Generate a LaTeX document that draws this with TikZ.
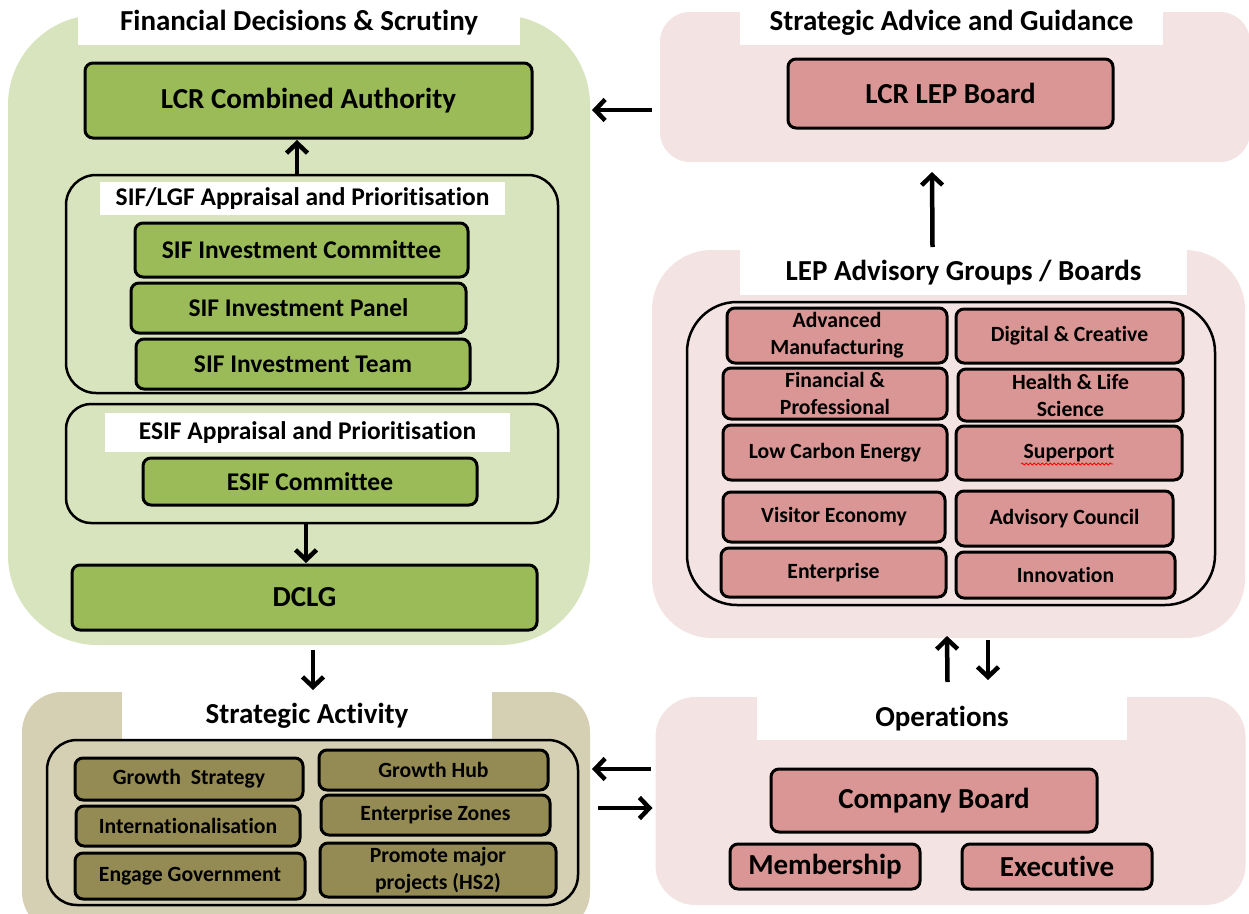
\documentclass[tikz,border=0pt]{standalone}
\usepackage{fontspec}
\setmainfont[Ligatures={NoCommon}]{Carlito}
\usetikzlibrary{arrows.meta,decorations.pathmorphing}
\definecolor{grnbg}{HTML}{D7E4BD}
\definecolor{grnbox}{HTML}{9BBB59}
\definecolor{pinkbg}{HTML}{F4E3E3}
\definecolor{pinkbox}{HTML}{D99694}
\definecolor{khakibg}{HTML}{D5D0B4}
\definecolor{olivebox}{HTML}{948A54}
\begin{document}
\begin{tikzpicture}[x=1pt,y=-1pt,
  every node/.style={inner sep=0pt,outer sep=0pt},
  bgpanel/.style={rectangle,draw=none},
  hdr/.style={rectangle,fill=white,font=\fontsize{29}{33}\selectfont\bfseries},
  subhdr/.style={rectangle,fill=white,font=\fontsize{25.5}{30}\selectfont\bfseries},
  grp/.style={rectangle,draw=black,line width=2.5pt},
  boxbase/.style={rectangle,draw=black,line width=3pt,rounded corners=8pt,align=center},
  gbox/.style={boxbase,fill=grnbox},
  pbox/.style={boxbase,fill=pinkbox},
  obox/.style={boxbase,fill=olivebox},
  big/.style={font=\fontsize{29}{33}\selectfont\bfseries},
  mid/.style={font=\fontsize{25.5}{30}\selectfont\bfseries},
  small/.style={font=\fontsize{21.7}{27}\selectfont\bfseries},
  arr/.style={line width=4.5pt,-{Straight Barb[length=10pt,width=21pt]}}
]
\useasboundingbox (0,0) rectangle (1249,913);
\fill[white] (0,0) rectangle (1249,913);
\clip (0,0) rectangle (1249,913);

% ---------- Financial Decisions & Scrutiny ----------
\node[bgpanel,fill=grnbg,rounded corners=90pt,minimum width=582,minimum height=630] (fin) at (299,330) {};
\node[hdr,minimum width=442,minimum height=45] (fintitle) at (299,22.5) {Financial Decisions \& Scrutiny};
\node[gbox,big,minimum width=447,minimum height=75] (lcrca) at (308.5,100.5) {LCR Combined Authority};

\node[grp,rounded corners=30pt,minimum width=492,minimum height=218] (sifgrp) at (312,284) {};
\node[subhdr,minimum width=405,minimum height=33] (siftitle) at (302.5,198.5) {SIF/LGF Appraisal and Prioritisation};
\node[gbox,mid,minimum width=333,minimum height=54] (sifcom) at (301.5,250) {SIF Investment Committee};
\node[gbox,mid,minimum width=335,minimum height=50] (sifpan) at (298.5,308) {SIF Investment Panel};
\node[gbox,mid,minimum width=334,minimum height=50] (sifteam) at (303,364) {SIF Investment Team};

\node[grp,rounded corners=25pt,minimum width=492,minimum height=119] (esifgrp) at (312,463.5) {};
\node[subhdr,minimum width=405,minimum height=39] (esiftitle) at (307.5,432.5) {ESIF Appraisal and Prioritisation};
\node[gbox,mid,minimum width=334,minimum height=47] (esifcom) at (310,481.5) {ESIF Committee};

\node[gbox,big,minimum width=465,minimum height=65] (dclg) at (304.5,597.5) {DCLG};

% ---------- Strategic Activity ----------
\node[bgpanel,fill=khakibg,rounded corners=40pt,minimum width=568,minimum height=240] (strat) at (306,812) {};
\node[hdr,minimum width=370,minimum height=48] (strattitle) at (307,716) {Strategic Activity};
\node[grp,rounded corners=30pt,minimum width=531,minimum height=165] (stratgrp) at (312.5,822.5) {};
\node[obox,small,minimum width=228,minimum height=42] (gstrat) at (189,779) {Growth\ \ Strategy};
\node[obox,small,minimum width=224,minimum height=40] (intl) at (188,826) {Internationalisation};
\node[obox,small,minimum width=230,minimum height=46] (engage) at (190,876) {Engage Government};
\node[obox,small,minimum width=229,minimum height=40] (ghub) at (433.5,770) {Growth Hub};
\node[obox,small,minimum width=229,minimum height=40] (ezones) at (435.5,815) {Enterprise Zones};
\node[obox,small,minimum width=236,minimum height=54] (hs2) at (438,870) {Promote major\\projects (HS2)};

% ---------- Strategic Advice and Guidance ----------
\node[bgpanel,fill=pinkbg,rounded corners=30pt,minimum width=590,minimum height=150] (sag) at (955,87) {};
\node[hdr,minimum width=423,minimum height=45] (sagtitle) at (951.5,22.5) {Strategic Advice and Guidance};
\node[pbox,big,minimum width=325,minimum height=69] (lepboard) at (950.5,93.5) {LCR LEP Board};

% ---------- LEP Advisory Groups / Boards ----------
\node[bgpanel,fill=pinkbg,rounded corners=60pt,minimum width=593,minimum height=388] (adv) at (948.5,444) {};
\node[hdr,minimum width=447,minimum height=45] (advtitle) at (963.5,272.5) {LEP Advisory Groups / Boards};
\node[grp,rounded corners=50pt,minimum width=528,minimum height=303] (advgrp) at (951,453.5) {};
\node[pbox,small,minimum width=220,minimum height=55] (advman) at (837,335.5) {Advanced\\Manufacturing};
\node[pbox,small,minimum width=227,minimum height=54] (digital) at (1069.5,336) {Digital \& Creative};
\node[pbox,small,minimum width=224,minimum height=51] (finprof) at (835,393.5) {Financial \&\\Professional};
\node[pbox,small,minimum width=225,minimum height=52] (health) at (1070.5,395) {Health \& Life\\Science};
\node[pbox,small,minimum width=224,minimum height=55] (lowcarb) at (835,452.5) {Low Carbon Energy};
\node[pbox,small,minimum width=226,minimum height=54] (superport) at (1069,453) {Superport};
\node[pbox,small,minimum width=222,minimum height=50] (visitor) at (834,517) {Visitor Economy};
\node[pbox,small,minimum width=217,minimum height=55] (advcouncil) at (1064.5,518.5) {Advisory Council};
\node[pbox,small,minimum width=225,minimum height=49] (enterprise) at (833.5,572.5) {Enterprise};
\node[pbox,small,minimum width=219,minimum height=46] (innovation) at (1065.5,575) {Innovation};
\draw[red,line width=0.8pt,decorate,decoration={snake,segment length=4pt,amplitude=1pt}]
  ([shift={(-48,11)}]superport.center) -- ([shift={(44,11)}]superport.center);

% ---------- Operations ----------
\node[bgpanel,fill=pinkbg,rounded corners=40pt,minimum width=590,minimum height=208] (ops) at (950.5,801) {};
\node[hdr,minimum width=370,minimum height=43] (opstitle) at (942,718.5) {Operations};
\node[pbox,big,minimum width=326,minimum height=63] (cboard) at (934,800.5) {Company Board};
\node[pbox,big,minimum width=190,minimum height=45] (member) at (825,866.5) {Membership};
\node[pbox,big,minimum width=190,minimum height=45] (exec) at (1057,866.5) {Executive};

% ---------- Connectors ----------
\draw[arr] ([shift={(-15,0)}]sifgrp.north) -- ([shift={(-11.5,2)}]lcrca.south);
\draw[arr] ([shift={(-6,0)}]esifgrp.south) -- ([shift={(1.5,-2)}]dclg.north);
\draw[arr] ([shift={(14,5)}]fin.south) -- ([shift={(6,-2)}]strattitle.north);
\draw[arr] ([shift={(-8,23)}]sag.west) -- ([shift={(2,-220)}]fin.east);
\draw[arr] ([shift={(-16,-3)}]adv.north) -- ([shift={(-23,10)}]sag.south);
\draw[arr] ([shift={(-3,-15)}]ops.north) -- ([shift={(-1.5,-2)}]adv.south);
\draw[arr] ([shift={(39.5,2)}]adv.south) -- ([shift={(37.5,-17)}]ops.north);
\draw[arr] ([shift={(-5,-32)}]ops.west) -- ([shift={(2,-43)}]strat.east);
\draw[arr] ([shift={(8,-4)}]strat.east) -- ([shift={(-3,7)}]ops.west);
\end{tikzpicture}
\end{document}
